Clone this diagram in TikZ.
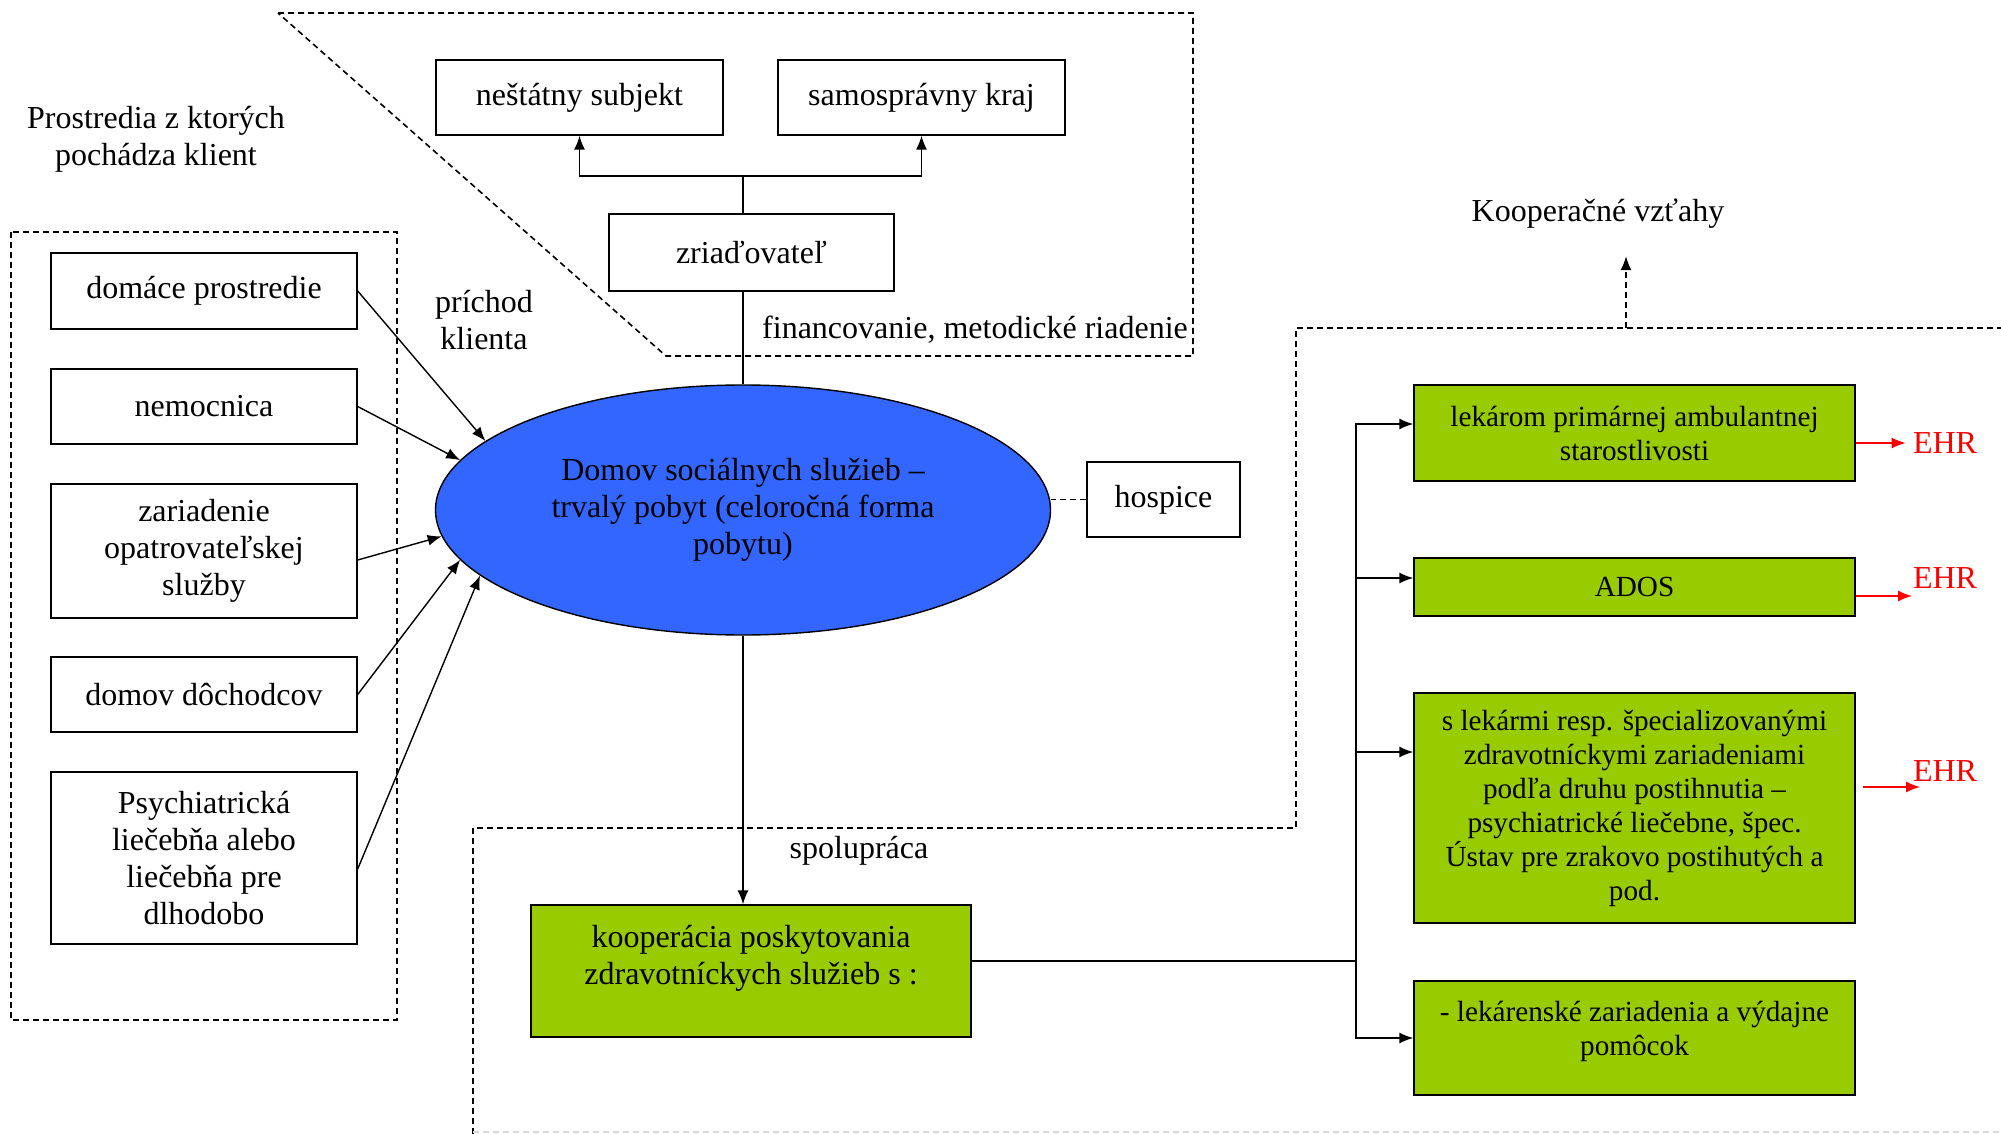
\documentclass[tikz,border=0pt]{standalone}
\usepackage{fontspec}
\setmainfont{Liberation Serif}
\usepackage{tikz}
\usetikzlibrary{arrows.meta,shapes.geometric}
\definecolor{dssblue}{HTML}{3366FF}
\definecolor{koopgreen}{HTML}{99CC00}
\definecolor{ehrred}{HTML}{FF0000}

\begin{document}
\begin{tikzpicture}[x=0.5pt,y=-0.5pt,>={Latex[length=7pt,width=5.5pt]},
  font=\fontsize{16}{18.5}\selectfont,line width=0.7pt,
  box/.style={draw,inner sep=0pt,align=center},
  gbox/.style={box,fill=koopgreen,font=\fontsize{14.6}{17}\selectfont},
  dsh/.style={line width=0.8pt,dash pattern=on 3pt off 2pt}]
  \useasboundingbox (0,0) rectangle (2001,1134);

  % zriadovatel a financovanie
  \draw[dsh] (278,13) -- (1193,13) -- (1193,356) -- (666,356) -- cycle;
  \node[box,minimum width=143.5pt,minimum height=37.5pt] (nestat) at (579.5,97.5) {neštátny subjekt};
  \node[box,minimum width=143.5pt,minimum height=37.5pt] (kraj)   at (921.5,97.5) {samosprávny kraj};
  \node[box,minimum width=142.5pt,minimum height=38.5pt] (zriad)  at (751.5,252.5) {zriaďovateľ};
  \node (fin) at (975,330) {financovanie, metodické riadenie};

  \node[ellipse,draw,fill=dssblue,inner sep=0pt,align=center,
        minimum width=307.5pt,minimum height=125pt] (dss) at (743,510)
        {Domov sociálnych služieb –\\trvalý pobyt (celoročná forma\\pobytu)};
  \coordinate (bar) at (743,176);
  \draw[->] (dss.north |- zriad.north) -- (bar) -| (nestat.south);
  \draw[->] (bar) -| (kraj.south);
  \draw (dss.north) -- (dss.north |- zriad.south);

  \node[box,minimum width=76.5pt,minimum height=37.5pt] (hosp) at (1163.5,499.5) {hospice};
  \draw[dsh] (hosp.west) -- (hosp.west -| dss.east);

  % prostredia
  \node[align=center] (prost) at (156,139) {Prostredia z ktorých\\pochádza klient};
  \draw[dsh] (11,232) rectangle (397,1020);
  \node[box,minimum width=153pt,minimum height=38pt]   (dom)   at (204,291)   {domáce prostredie};
  \node[box,minimum width=153pt,minimum height=37.5pt] (nem)   at (204,406.5) {nemocnica};
  \node[box,minimum width=153pt,minimum height=67pt]   (opat)  at (204,551)   {zariadenie\\opatrovateľskej\\služby};
  \node[box,minimum width=153pt,minimum height=37.5pt] (doch)  at (204,694.5) {domov dôchodcov};
  \node[box,minimum width=153pt,minimum height=86pt]   (psych) at (204,858)   {Psychiatrická\\liečebňa alebo\\liečebňa pre\\dlhodobo};
  \node[align=center] (prich) at (484,320) {príchod\\klienta};

  \draw[->] (dom.east) -- (dss.165.6);
  \draw[->] (nem.east) -- (dss.170.6);
  \draw[->] ([yshift=-4.5pt]opat.east) -- (dss.185.9);
  \draw[->] (doch.east) -- (dss.190.5);
  \draw[->] ([yshift=-5.5pt]psych.east) -- (dss.194.4);

  % spolupraca
  \draw[dsh] (473,1134) -- (473,828) -- (1296,828) -- (1296,328) -- (2001,328);
  \draw[dsh,black!15] (473,1132) -- (2001,1132);
  \node (spol) at (859,851) {spolupráca};
  \node (koopvz) at (1598,214) {Kooperačné vzťahy};
  \coordinate (kv) at (1626,328);
  \draw[dsh,->,shorten >=10pt] (kv) -- (kv |- koopvz.south);

  \node[gbox,font=\fontsize{16}{18.5}\selectfont,minimum width=220pt,minimum height=66pt] (koop) at (751,971)
        {\parbox[c][46pt][t]{210pt}{\centering kooperácia poskytovania\\zdravotníckych služieb s :}};
  \draw[->] (dss.south) -- (dss.south |- koop.north);

  \node[gbox,minimum width=220.5pt,minimum height=48pt]  (lek)   at (1634.5,433)
        {lekárom primárnej ambulantnej\\starostlivosti};
  \node[gbox,minimum width=220.5pt,minimum height=29pt]  (ados)  at (1634.5,587) {ADOS};
  \node[gbox,minimum width=220.5pt,minimum height=115pt] (spec)  at (1634.5,808)
        {s lekármi resp. špecializovanými\\zdravotníckymi zariadeniami\\podľa druhu postihnutia –\\psychiatrické liečebne, špec.\\Ústav pre zrakovo postihutých a\\pod.};
  \node[gbox,minimum width=220.5pt,minimum height=57pt]  (lekar) at (1634.5,1038)
        {\parbox[c][37pt][t]{214pt}{\centering - lekárenské zariadenia a výdajne\\pomôcok}};

  \coordinate (split) at (1356,961);
  \draw (koop.east |- split) -- (split);
  \draw[->] (split) |- ([yshift=4.5pt]lek.west);
  \draw[->] (split) |- ([yshift=4.5pt]ados.west);
  \draw[->] (split) |- ([yshift=28pt]spec.west);
  \draw[->] (split) |- (lekar.west);

  % EHR
  \node[text=ehrred] (ehr1) at (1945,443) {EHR};
  \node[text=ehrred] (ehr2) at (1945,578) {EHR};
  \node[text=ehrred] (ehr3) at (1945,771) {EHR};
  \draw[ehrred,->] ([yshift=-5pt]lek.east) -- (ehr1.west);
  \coordinate (e2) at (1912,596);
  \draw[ehrred,->] (ados.east |- e2) -- (e2);
  \coordinate (e3a) at (1863,787);
  \coordinate (e3) at (1920,787);
  \draw[ehrred,->] (e3a) -- (e3);
\end{tikzpicture}
\end{document}
